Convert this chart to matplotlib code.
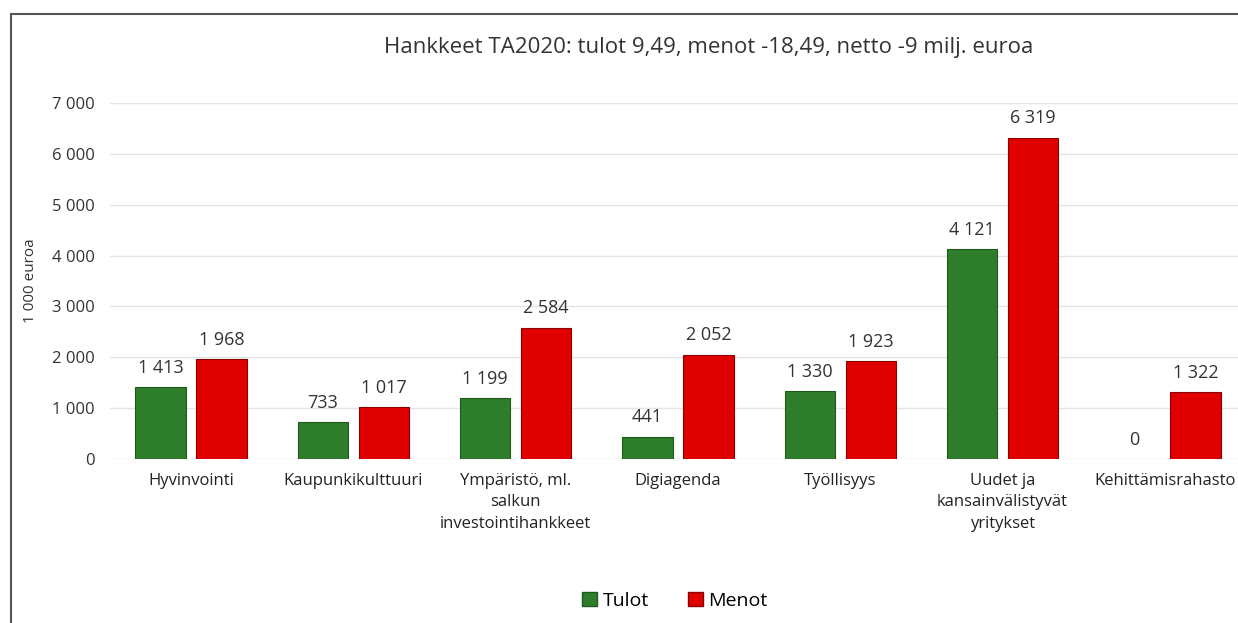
import matplotlib.pyplot as plt
import numpy as np
from matplotlib.patches import Rectangle, Patch

plt.rcParams['font.family'] = ['Open Sans', 'DejaVu Sans']

categories = ["Hyvinvointi", "Kaupunkikulttuuri", "Ympäristö, ml.\nsalkun\ninvestointihankkeet",
              "Digiagenda", "Työllisyys", "Uudet ja\nkansainvälistyvät\nyritykset", "Kehittämisrahasto"]
tulot = [1413, 733, 1199, 441, 1330, 4121, 0]
menot = [1968, 1017, 2584, 2052, 1923, 6319, 1322]
yticks = [0, 1000, 2000, 3000, 4000, 5000, 6000, 7000]

def fmt(v):
    return "{:,}".format(v).replace(",", " ")

W, H = 1238, 623
fig = plt.figure(figsize=(W / 100, H / 100), dpi=100)
fig.patches.append(Rectangle((11 / W, -0.1), 1.2, 1 - 14 / H + 0.1, transform=fig.transFigure,
                             fill=False, edgecolor='#555555', linewidth=1.5))

ax = fig.add_axes([110 / W, 1 - 459 / H, 1136 / W, 356 / H])
x = np.arange(len(categories))
bw = 0.31
off = 0.188
green = '#2E7D2B'
red = '#E00000'
ax.bar(x - off, tulot, bw, color=green, edgecolor='#1f5a1c',
       linewidth=[0.8 if v > 0 else 0 for v in tulot], zorder=3)
ax.bar(x + off, menot, bw, color=red, edgecolor='#8a0000', linewidth=0.8, zorder=3)
for xi, v in zip(x, tulot):
    ax.text(xi - off, v + 200, fmt(v), ha='center', va='bottom', fontsize=13, color='#333333')
for xi, v in zip(x, menot):
    ax.text(xi + off, v + 200, fmt(v), ha='center', va='bottom', fontsize=13, color='#333333')

ax.set_xlim(-0.5, 6.5)
ax.set_ylim(0, 7000)
ax.set_yticks(yticks)
ax.set_yticklabels([fmt(v) for v in yticks], fontsize=12, color='#333333')
ax.set_xticks(x)
ax.set_xticklabels(categories, fontsize=12, color='#222222', linespacing=1.45, va='top')
ax.tick_params(length=0)
ax.tick_params(axis='x', pad=10)
ax.tick_params(axis='y', pad=11)
ax.grid(axis='y', color='#e4e4e4', linewidth=1, zorder=0)
for s in ax.spines.values():
    s.set_visible(False)
ax.set_ylabel("1 000 euroa", fontsize=11, color='#333333', labelpad=10)

fig.text(709 / W, 1 - 47 / H, "Hankkeet TA2020: tulot 9,49, menot -18,49, netto -9 milj. euroa",
         ha='center', va='center', fontsize=16, color='#333333')

handles = [Patch(facecolor=green, edgecolor='#1f5a1c'), Patch(facecolor=red, edgecolor='#8a0000')]
fig.legend(handles, ["Tulot", "Menot"], loc='center', bbox_to_anchor=(675 / W, 1 - 601 / H),
           ncol=2, frameon=False, fontsize=14, handlelength=0.75, handleheight=0.75,
           handletextpad=0.3, columnspacing=2.0)

fig.savefig('out.png', dpi=100)
